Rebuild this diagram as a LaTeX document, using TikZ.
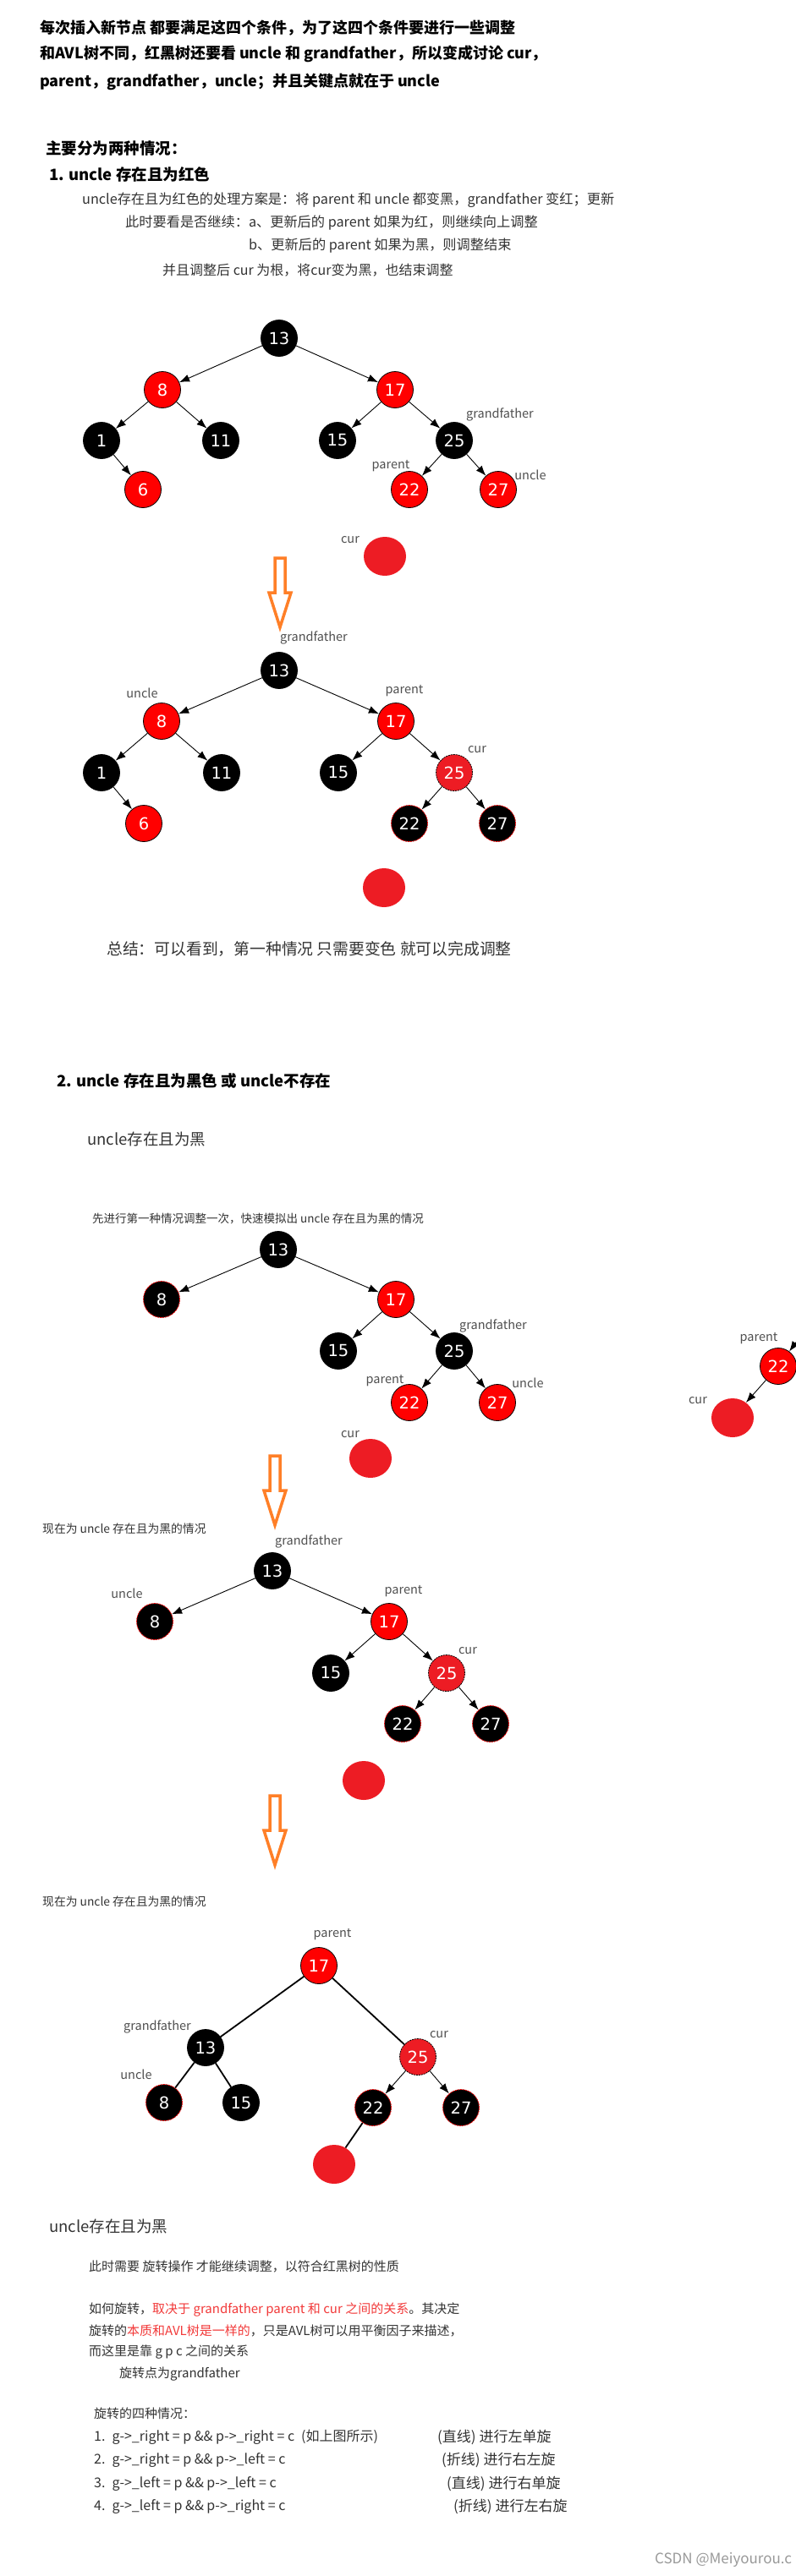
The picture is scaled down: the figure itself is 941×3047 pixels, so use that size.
\documentclass[tikz,border=0pt]{standalone}
\usepackage{fontspec}
\setmainfont{Noto Sans CJK SC}
\newfontfamily\numfont{DejaVu Sans}
\usetikzlibrary{shapes, arrows.meta, positioning}
\definecolor{nodered}{HTML}{FF0000}
\definecolor{curred}{HTML}{ED1C24}
\definecolor{floworange}{HTML}{FF7F27}
\definecolor{bodygray}{HTML}{333333}
\definecolor{rolegray}{HTML}{505050}
\definecolor{markred}{HTML}{F23A3A}
\tikzstyle{rbnode}=[circle, draw=black, line width=0.8pt, minimum size=43pt, inner sep=0pt, text=white, font=\numfont\fontsize{19.5}{20}\selectfont]
\tikzstyle{blacknode}=[rbnode, fill=black]
\tikzstyle{rednode}=[rbnode, fill=nodered]
\tikzstyle{curnode}=[rbnode, fill=curred, dash pattern=on 2pt off 1pt]
\tikzstyle{flipnode}=[rbnode, fill=black, draw=nodered, dash pattern=on 2pt off 1pt]
\tikzstyle{newnode}=[ellipse, fill=curred, minimum width=50pt, minimum height=46pt, inner sep=0pt]
\tikzstyle{role}=[inner sep=0pt, text=rolegray, font=\fontsize{14.5}{15}\selectfont]
\tikzstyle{textline}=[anchor=west, inner sep=0pt, text=bodygray]
\tikzstyle{heading}=[textline, text=black, font=\bfseries\fontsize{18.5}{20}\selectfont]
\tikzstyle{link}=[line width=0.9pt, -{Latex[length=12pt,width=9pt]}]
\tikzstyle{bond}=[line width=1.8pt]
\tikzstyle{flowarrow}=[draw=floworange, line width=3.5pt]

\begin{document}
\begin{tikzpicture}[x=1pt, y=-1pt]
	\fill[white] (0,0) rectangle (941,3047);
	\useasboundingbox (0,0) rectangle (941,3047);
	% intro text
	\node[heading, font=\bfseries\fontsize{18}{20}\selectfont] (intro1) at (47,33) {每次插入新节点 都要满足这四个条件，为了这四个条件要进行一些调整};
	\node[heading, font=\bfseries\fontsize{18}{20}\selectfont] (intro2) at (47,64) {和AVL树不同，红黑树还要看 uncle 和 grandfather，所以变成讨论 cur，};
	\node[heading, font=\bfseries\fontsize{18}{20}\selectfont] (intro3) at (47,97) {parent，grandfather，uncle；并且关键点就在于 uncle};
	\node[heading] (cases) at (54,175) {主要分为两种情况：};
	\node[heading] (case1) at (58,206) {1. uncle 存在且为红色};
	\node[textline, font=\fontsize{16.2}{17}\selectfont] (plan1) at (97,237) {uncle存在且为红色的处理方案是：将 parent 和 uncle 都变黑，grandfather 变红；更新};
	\node[textline, font=\fontsize{16.2}{17}\selectfont] (plan2) at (148,264) {此时要看是否继续：a、更新后的 parent 如果为红，则继续向上调整};
	\node[textline, font=\fontsize{16.2}{17}\selectfont] (plan3) at (294,291) {b、更新后的 parent 如果为黑，则调整结束};
	\node[textline, font=\fontsize{16}{17}\selectfont] (plan4) at (192,320) {并且调整后 cur 为根，将cur变为黑，也结束调整};

	% first tree
	\node[blacknode] (a13) at (330,400) {13};
	\node[rednode] (a8) at (192,461) {8};
	\node[rednode] (a17) at (467,461) {17};
	\node[blacknode] (a1) at (120,521) {1};
	\node[blacknode] (a11) at (261,521) {11};
	\node[blacknode] (a15) at (399,521) {15};
	\node[blacknode] (a25) at (537,521) {25};
	\node[rednode] (a6) at (169,579) {6};
	\node[rednode] (a22) at (484,579) {22};
	\node[rednode] (a27) at (589,579) {27};
	\node[newnode] (anew) at (455,658) {};
	\node[role] (agf) at (591,490) {grandfather};
	\node[role] (apar) at (462,551) {parent};
	\node[role] (aunc) at (627,562) {uncle};
	\node[role] (acur) at (414,639) {cur};
	% Arrows
	\draw[link] (a13) edge (a8) (a13) edge (a17)
	(a8) edge (a1) (a8) edge (a11) (a17) edge (a15) (a17) edge (a25)
	(a1) edge (a6) (a25) edge (a22) (a25) edge (a27);

	% orange arrows between the steps
	\foreach \cx/\ty in {331/660, 325/1722, 325/2124}
	\draw[flowarrow] (\cx-6,\ty) -- (\cx+6,\ty) -- (\cx+6,\ty+41) -- (\cx+13,\ty+41)
	-- (\cx,\ty+82) -- (\cx-13,\ty+41) -- (\cx-6,\ty+41) -- cycle;

	% second tree
	\node[blacknode] (b13) at (330,793) {13};
	\node[rednode] (b8) at (191,853) {8};
	\node[rednode] (b17) at (468,853) {17};
	\node[blacknode] (b1) at (120,914) {1};
	\node[blacknode] (b11) at (262,914) {11};
	\node[blacknode] (b15) at (400,914) {15};
	\node[curnode] (b25) at (537,914) {25};
	\node[rednode] (b6) at (170,974) {6};
	\node[flipnode] (b22) at (484,974) {22};
	\node[flipnode] (b27) at (588,974) {27};
	\node[newnode] (bnew) at (454,1050) {};
	\node[role] (bgf) at (371,754) {grandfather};
	\node[role] (bunc) at (168,820) {uncle};
	\node[role] (bpar) at (478,817) {parent};
	\node[role] (bcur) at (564,887) {cur};
	\draw[link] (b13) edge (b8) (b13) edge (b17)
	(b8) edge (b1) (b8) edge (b11) (b17) edge (b15) (b17) edge (b25)
	(b1) edge (b6) (b25) edge (b22) (b25) edge (b27);
	\node[textline, font=\fontsize{18.8}{19}\selectfont] (sum) at (126,1123) {总结：可以看到，第一种情况 只需要变色 就可以完成调整};

	% case two
	\node[heading] (case2) at (67,1278) {2. uncle 存在且为黑色 或 uncle不存在};
	\node[textline, font=\fontsize{18.5}{19}\selectfont] (sub2) at (103,1347) {uncle存在且为黑};
	\node[textline, font=\fontsize{13.5}{14}\selectfont] (note1) at (109,1441) {先进行第一种情况调整一次，快速模拟出 uncle 存在且为黑的情况};

	% third tree
	\node[blacknode] (c13) at (329,1478) {13};
	\node[flipnode] (c8) at (191,1537) {8};
	\node[rednode] (c17) at (468,1537) {17};
	\node[blacknode] (c15) at (400,1598) {15};
	\node[blacknode] (c25) at (537,1598) {25};
	\node[rednode] (c22) at (484,1659) {22};
	\node[rednode] (c27) at (588,1659) {27};
	\node[newnode] (cnew) at (438,1725) {};
	\node[role] (cgf) at (583,1568) {grandfather};
	\node[role] (cpar) at (455,1633) {parent};
	\node[role] (cunc) at (624,1636) {uncle};
	\node[role] (ccur) at (414,1697) {cur};
	\draw[link] (c13) edge (c8) (c13) edge (c17)
	(c17) edge (c15) (c17) edge (c25) (c25) edge (c22) (c25) edge (c27);

	% cut piece on the right
	\coordinate (soff) at (958,1565);
	\node[rednode] (s22) at (920,1616) {22};
	\node[newnode] (snew) at (866,1677) {};
	\node[role] (spar) at (897,1583) {parent};
	\node[role] (scur) at (825,1657) {cur};
	\draw[link] (soff) edge (s22) (s22) edge (snew);

	% fourth tree
	\node[textline, font=\fontsize{13.8}{14}\selectfont] (note2) at (50,1808) {现在为 uncle 存在且为黑的情况};
	\node[blacknode] (d13) at (322,1858) {13};
	\node[flipnode] (d8) at (183,1918) {8};
	\node[rednode] (d17) at (460,1918) {17};
	\node[blacknode] (d15) at (391,1979) {15};
	\node[curnode] (d25) at (528,1979) {25};
	\node[flipnode] (d22) at (476,2039) {22};
	\node[flipnode] (d27) at (580,2039) {27};
	\node[newnode] (dnew) at (430,2106) {};
	\node[role] (dgf) at (365,1823) {grandfather};
	\node[role] (dunc) at (150,1885) {uncle};
	\node[role] (dpar) at (477,1882) {parent};
	\node[role] (dcur) at (553,1953) {cur};
	\draw[link] (d13) edge (d8) (d13) edge (d17)
	(d17) edge (d15) (d17) edge (d25) (d25) edge (d22) (d25) edge (d27);

	% fifth tree, after the rotation
	\node[textline, font=\fontsize{13.8}{14}\selectfont] (note3) at (50,2249) {现在为 uncle 存在且为黑的情况};
	\node[rednode] (e17) at (377,2325) {17};
	\node[blacknode] (e13) at (243,2422) {13};
	\node[curnode] (e25) at (494,2433) {25};
	\node[flipnode] (e8) at (194,2487) {8};
	\node[blacknode] (e15) at (285,2487) {15};
	\node[flipnode] (e22) at (441,2493) {22};
	\node[flipnode] (e27) at (545,2493) {27};
	\node[newnode] (enew) at (395,2560) {};
	\node[role] (epar) at (393,2288) {parent};
	\node[role] (egf) at (186,2397) {grandfather};
	\node[role] (ecur) at (519,2407) {cur};
	\node[role] (eunc) at (161,2454) {uncle};
	\draw[bond] (e17) -- (e13) (e17) -- (e25) (e13) -- (e8) (e13) -- (e15) (e22) -- (enew);
	\draw[link] (e25) edge (e22) (e25) edge (e27);

	% rotation notes
	\node[textline, font=\fontsize{18.5}{19}\selectfont] (sub3) at (58,2633) {uncle存在且为黑};
	\node[textline, font=\fontsize{15}{16}\selectfont] (rot1) at (105,2681) {此时需要 旋转操作 才能继续调整，以符合红黑树的性质};
	\node[textline, font=\fontsize{15}{16}\selectfont] (rot2) at (105,2732) {如何旋转，{\color{markred}取决于 grandfather parent 和 cur 之间的关系}。其决定};
	\node[textline, font=\fontsize{15}{16}\selectfont] (rot3) at (105,2757) {旋转的{\color{markred}本质和AVL树是一样的}，只是AVL树可以用平衡因子来描述，};
	\node[textline, font=\fontsize{15}{16}\selectfont] (rot4) at (105,2782) {而这里是靠 g p c 之间的关系};
	\node[textline, font=\fontsize{15}{16}\selectfont] (rot5) at (141,2808) {旋转点为grandfather};
	\node[textline, font=\fontsize{15}{16}\selectfont] (kinds) at (111,2855) {旋转的四种情况：};
	\node[textline, font=\fontsize{16}{17}\selectfont] (k1) at (111,2883) {1.\enspace g->\_right = p \&\& p->\_right = c\enspace (如上图所示)};
	\node[textline, font=\fontsize{16}{17}\selectfont] (k2) at (111,2910) {2.\enspace g->\_right = p \&\& p->\_left = c};
	\node[textline, font=\fontsize{16}{17}\selectfont] (k3) at (111,2938) {3.\enspace g->\_left = p \&\& p->\_left = c};
	\node[textline, font=\fontsize{16}{17}\selectfont] (k4) at (111,2965) {4.\enspace g->\_left = p \&\& p->\_right = c};
	\node[textline, font=\fontsize{17}{18}\selectfont] (k1r) at (517,2883) {(直线) 进行左单旋};
	\node[textline, font=\fontsize{17}{18}\selectfont] (k2r) at (522,2910) {(折线) 进行右左旋};
	\node[textline, font=\fontsize{17}{18}\selectfont] (k3r) at (528,2938) {(直线) 进行右单旋};
	\node[textline, font=\fontsize{17}{18}\selectfont] (k4r) at (536,2965) {(折线) 进行左右旋};
	\node[textline, text=black!40, font=\fontsize{17}{18}\selectfont] (mark) at (774,3028) {CSDN @Meiyourou.c};
\end{tikzpicture}
\end{document}
